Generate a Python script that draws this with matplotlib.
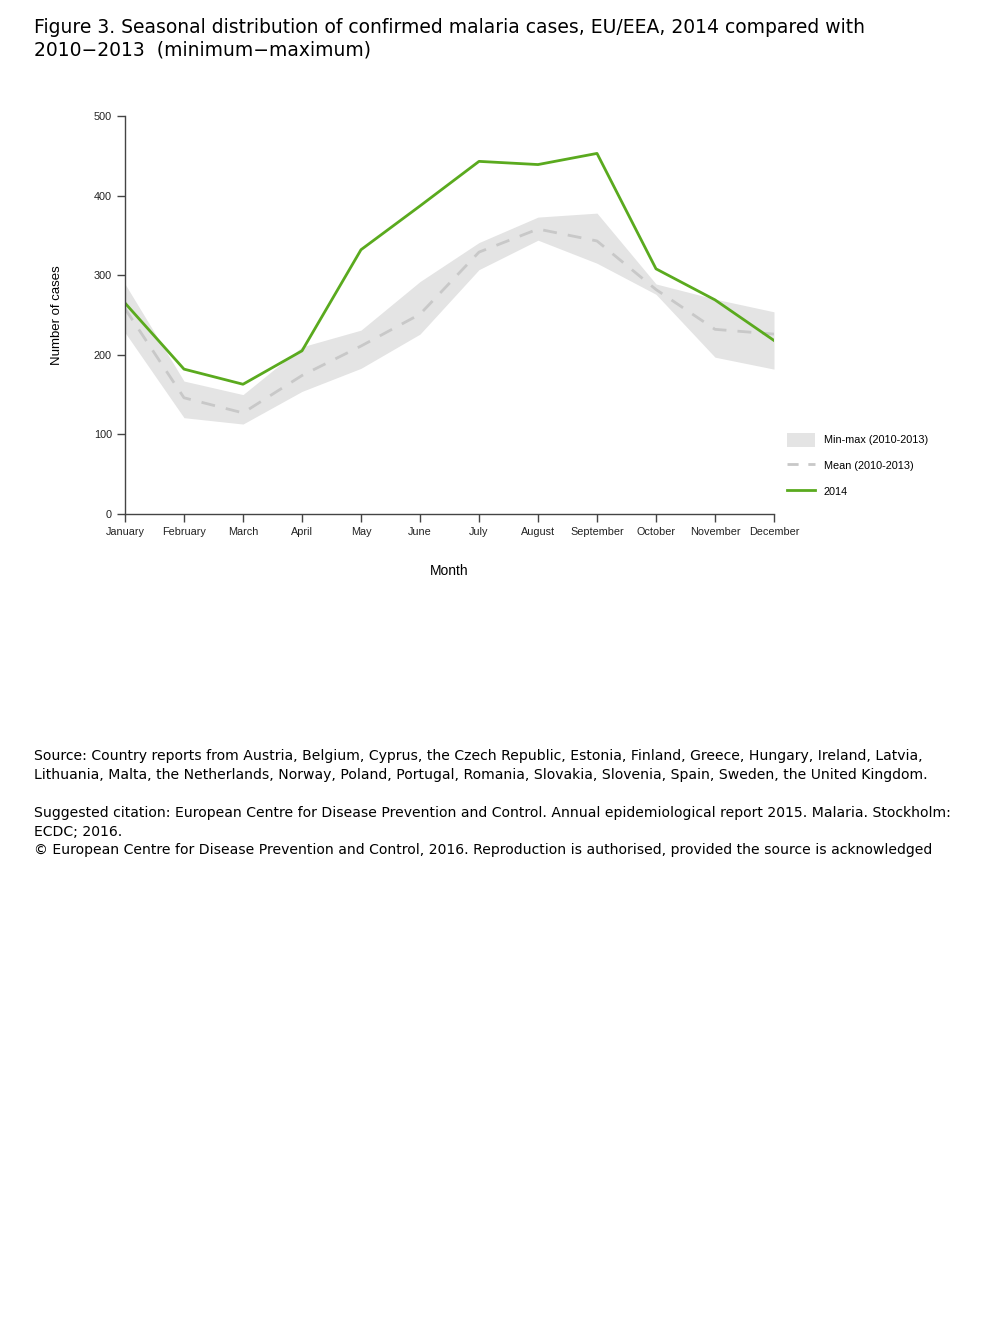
import numpy as np
import matplotlib.pyplot as plt
from matplotlib.patches import Patch
from matplotlib.lines import Line2D

months = ['January', 'February', 'March', 'April', 'May', 'June', 'July',
          'August', 'September', 'October', 'November', 'December']
cases_2014 = [265, 182, 163, 205, 332, 387, 443, 439, 453, 308, 269, 218]
mean_1013 = [258, 146, 127, 174, 211, 251, 329, 358, 343, 282, 232, 226]
min_1013 = [228, 121, 113, 154, 183, 226, 307, 344, 315, 276, 197, 182]
max_1013 = [289, 167, 150, 210, 231, 292, 341, 373, 378, 289, 270, 254]

title = ('Figure 3. Seasonal distribution of confirmed malaria cases, EU/EEA, 2014 compared with\n'
         '2010\u22122013  (minimum\u2212maximum)')
source = ('Source: Country reports from Austria, Belgium, Cyprus, the Czech Republic, Estonia, Finland, Greece, Hungary, Ireland, Latvia,\n'
          'Lithuania, Malta, the Netherlands, Norway, Poland, Portugal, Romania, Slovakia, Slovenia, Spain, Sweden, the United Kingdom.')
citation = ('Suggested citation: European Centre for Disease Prevention and Control. Annual epidemiological report 2015. Malaria. Stockholm:\n'
            'ECDC; 2016.\n'
            '\u00a9 European Centre for Disease Prevention and Control, 2016. Reproduction is authorised, provided the source is acknowledged')

W, H = 1008, 1344
fig = plt.figure(figsize=(W / 100, H / 100), dpi=100)

# axes box in pixel coords of the reference
x0, x1, ytop, ybot = 125, 774, 116, 514
ax = fig.add_axes([x0 / W, 1 - ybot / H, (x1 - x0) / W, (ybot - ytop) / H])

x = np.arange(len(months))
ax.fill_between(x, min_1013, max_1013, color='#e4e4e4', lw=0)
ax.plot(x, mean_1013, color='#c8c8c8', lw=2, dashes=(5, 4))
ax.plot(x, cases_2014, color='#5aaa1e', lw=2)

ax.set_xlim(0, 11)
ax.set_ylim(0, 500)
ax.set_xticks(x)
ax.set_xticklabels(months)
ax.set_yticks([0, 100, 200, 300, 400, 500])
for s in ['top', 'right']:
    ax.spines[s].set_visible(False)
for s in ['left', 'bottom']:
    ax.spines[s].set_color('#444444')
    ax.spines[s].set_linewidth(1)
ax.tick_params(direction='out', length=6, width=1, color='#444444',
               labelsize=7.8, labelcolor='#222222')
for lab in ax.get_xticklabels() + ax.get_yticklabels():
    lab.set_family('Liberation Sans')
ax.set_xlabel('Month', family='Liberation Sans', fontsize=10, labelpad=19)
ax.set_ylabel('Number of cases', family='Liberation Sans', fontsize=9.5, labelpad=22)

handles = [Patch(facecolor='#e4e4e4', edgecolor='none'),
           Line2D([], [], color='#c8c8c8', lw=2, dashes=(4, 3.5)),
           Line2D([], [], color='#5aaa1e', lw=2)]
labels = ['Min-max (2010-2013)', 'Mean (2010-2013)', '2014']
fig.legend(handles, labels, loc='upper left', bbox_to_anchor=(777 / W, 1 - 423 / H),
           frameon=False, prop={'family': 'Liberation Sans', 'size': 7.8},
           handlelength=2.6, handleheight=1.6, labelspacing=1.12, handletextpad=0.8)

fig.text(34 / W, 1 - 18 / H, title, ha='left', va='top', fontsize=13.5,
         family='DejaVu Sans', linespacing=1.25)
fig.text(34 / W, 1 - 749 / H, source, ha='left', va='top', fontsize=10.1,
         family='DejaVu Sans', linespacing=1.42)
fig.text(34 / W, 1 - 806 / H, citation, ha='left', va='top', fontsize=10.1,
         family='DejaVu Sans', linespacing=1.42)

fig.savefig('out.png', dpi=100)
